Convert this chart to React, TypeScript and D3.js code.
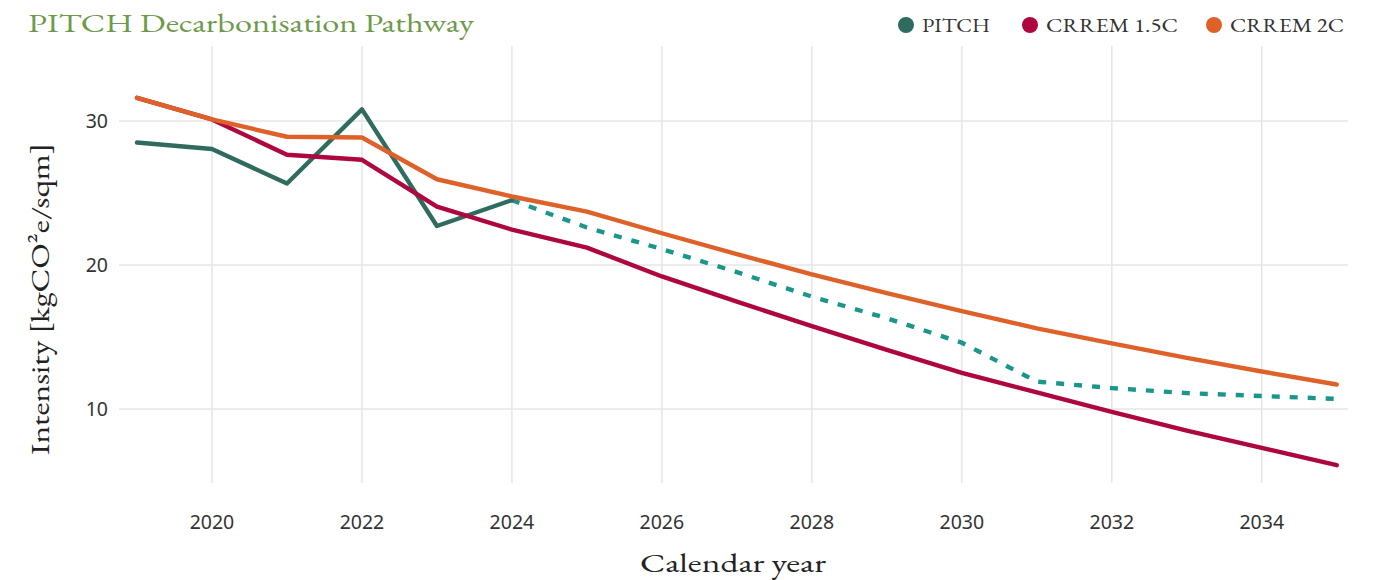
import * as d3 from "d3";
import React, { useEffect, useRef } from "react";

const years = [2019, 2020, 2021, 2022, 2023, 2024, 2025, 2026, 2027, 2028, 2029, 2030, 2031, 2032, 2033, 2034, 2035];
const pitchActual = [28.5, 28.05, 25.65, 30.8, 22.7, 24.5];
const pitchForecast = [24.5, 22.6, 21.1, 19.5, 17.8, 16.3, 14.6, 11.9, 11.45, 11.1, 10.9, 10.7];
const crrem15 = [31.6, 30.1, 27.65, 27.3, 24.05, 22.45, 21.2, 19.2, 17.45, 15.75, 14.1, 12.5, 11.15, 9.8, 8.5, 7.3, 6.1];
const crrem2 = [31.6, 30.1, 28.9, 28.85, 25.95, 24.75, 23.7, 22.2, 20.75, 19.35, 18.05, 16.8, 15.6, 14.55, 13.55, 12.6, 11.7];
const xTicks = [2020, 2022, 2024, 2026, 2028, 2030, 2032, 2034];
const yTicks = [10, 20, 30];
const legendItems = ["PITCH", "CRREM 1.5C", "CRREM 2C"];

const W = 1383;
const H = 580;
const serif = "'EB Garamond', 'Liberation Serif', 'DejaVu Serif', serif";
const sans = "'Noto Sans', 'Open Sans', sans-serif";

export default function App() {
  const svgRef = useRef<SVGSVGElement>(null);

  useEffect(() => {
    if (!svgRef.current) return;
    const svg = d3.select(svgRef.current);
    svg.selectAll("*").remove();

    const x = d3.scaleLinear().domain([2018.76, 2035.15]).range([119, 1348]);
    const y = d3.scaleLinear().domain([4.86, 35.2]).range([483, 46]);

    // grid
    const grid = svg.append("g");
    grid.selectAll("line.v")
      .data(xTicks)
      .join("line")
      .attr("x1", (d) => x(d))
      .attr("x2", (d) => x(d))
      .attr("y1", y.range()[1])
      .attr("y2", y.range()[0])
      .attr("stroke", "#e6e6e6")
      .attr("stroke-width", 1.5);
    grid.selectAll("line.h")
      .data(yTicks)
      .join("line")
      .attr("x1", x.range()[0])
      .attr("x2", x.range()[1])
      .attr("y1", (d) => y(d))
      .attr("y2", (d) => y(d))
      .attr("stroke", "#e6e6e6")
      .attr("stroke-width", 1.5);

    // tick labels
    svg.append("g")
      .selectAll("text")
      .data(xTicks)
      .join("text")
      .attr("x", (d) => x(d))
      .attr("y", 529)
      .attr("text-anchor", "middle")
      .attr("font-family", sans)
      .attr("font-size", 19.5)
      .attr("fill", "#333")
      .text((d) => String(d));
    svg.append("g")
      .selectAll("text")
      .data(yTicks)
      .join("text")
      .attr("x", 108)
      .attr("y", (d) => y(d) + 7)
      .attr("text-anchor", "end")
      .attr("font-family", sans)
      .attr("font-size", 19.5)
      .attr("fill", "#333")
      .text((d) => String(d));

    // axis titles
    svg.append("text")
      .attr("x", 733)
      .attr("y", 572)
      .attr("text-anchor", "middle")
      .attr("font-family", serif)
      .attr("font-size", 27)
      .attr("fill", "#222")
      .attr("textLength", 186)
      .attr("lengthAdjust", "spacingAndGlyphs")
      .text("Calendar year");
    svg.append("text")
      .attr("transform", "translate(49,299) rotate(-90)")
      .attr("text-anchor", "middle")
      .attr("font-family", serif)
      .attr("font-size", 27)
      .attr("fill", "#222")
      .attr("textLength", 312)
      .attr("lengthAdjust", "spacingAndGlyphs")
      .text("Intensity [kgCO²e/sqm]");

    const line = d3.line<number>()
      .x((_, i) => x(years[i]))
      .y((d) => y(d));
    const lineFc = d3.line<number>()
      .x((_, i) => x(years[i + 5]))
      .y((d) => y(d));

    const lines = svg.append("g").attr("fill", "none").attr("stroke-width", 4.4).attr("stroke-linejoin", "round").attr("stroke-linecap", "round");
    lines.append("path").datum(pitchForecast).attr("d", lineFc).attr("stroke", "#1b968b").attr("stroke-dasharray", "8,10").attr("stroke-linecap", "butt");
    lines.append("path").datum(pitchActual).attr("d", line).attr("stroke", "#2f6b5f");
    lines.append("path").datum(crrem15).attr("d", line).attr("stroke", "#ae063f");
    lines.append("path").datum(crrem2).attr("d", line).attr("stroke", "#de612a");

    // title
    svg.append("text")
      .attr("x", 28)
      .attr("y", 32)
      .attr("font-family", serif)
      .attr("font-size", 26)
      .attr("fill", "#6e9a4b")
      .attr("textLength", 446)
      .attr("lengthAdjust", "spacingAndGlyphs")
      .text("PITCH Decarbonisation Pathway");

    // legend
    const legendColors = ["#2f6b5f", "#ae063f", "#de612a"];
    const legendX = [906, 1030, 1214];
    const legendW = [68, 132, 114];
    const lg = svg.append("g").selectAll("g").data(legendItems).join("g")
      .attr("transform", (_, i) => `translate(${legendX[i]},25)`);
    lg.append("circle").attr("r", 8).attr("fill", (_, i) => legendColors[i]);
    lg.append("text")
      .attr("x", 16)
      .attr("y", 7)
      .attr("font-family", serif)
      .attr("font-size", 19)
      .attr("fill", "#333")
      .attr("textLength", (_, i) => legendW[i])
      .attr("lengthAdjust", "spacingAndGlyphs")
      .text((d) => d);
  }, []);

  return (
    <svg
      ref={svgRef}
      width={W}
      height={H}
      style={{ position: "absolute", top: 0, left: 0, background: "#fff" }}
    />
  );
}
